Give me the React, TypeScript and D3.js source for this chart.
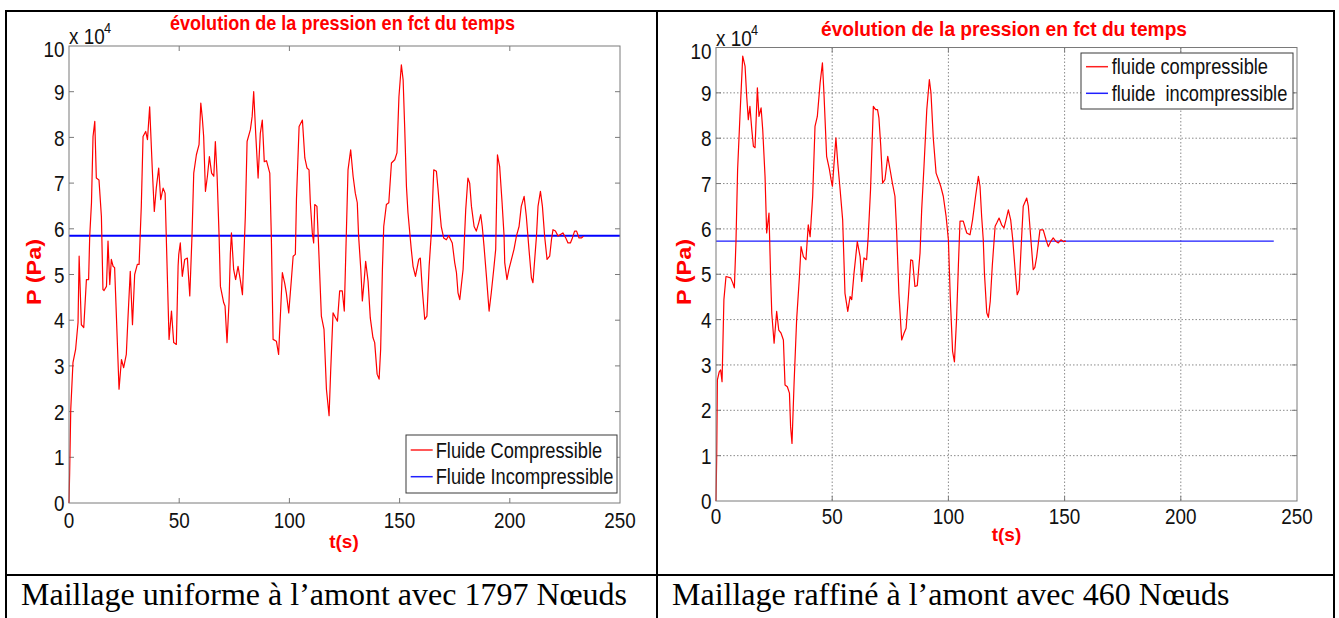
import * as d3 from "d3";

const SANS = "'Liberation Sans', Arial, sans-serif";
const SERIF = "'Liberation Serif', 'Times New Roman', serif";

type Pt = [number, number];

const xTicks = [0, 50, 100, 150, 200, 250];
const yTicks = [0, 10000, 20000, 30000, 40000, 50000, 60000, 70000, 80000, 90000, 100000];
const yTickLabels = ["0", "1", "2", "3", "4", "5", "6", "7", "8", "9", "10"];

const titleText = "évolution de la pression en fct du temps";
const xTitle = "t(s)";
const yTitle = "P (Pa)";
const captions = ["Maillage uniforme à l’amont avec 1797 Nœuds", "Maillage raffiné à l’amont avec 460 Nœuds"];
const legendUniform = ["Fluide Compressible", "Fluide Incompressible"];
const legendRefined = ["fluide compressible", "fluide  incompressible"];

// t (s), P (Pa) — maillage uniforme, 1797 noeuds
const compressibleUniform: Pt[] = [
  [0, 0], [0.3, 6700], [0.8, 20500], [1.8, 30700], [3.0, 33600], [4.1, 39500], [4.6, 54000],
  [5.6, 39000], [6.7, 38400], [7.9, 48900], [8.9, 48900], [9.4, 58400], [10.2, 65700],
  [10.9, 80200], [11.7, 83500], [12.4, 71100], [13.6, 70700], [14.7, 62700], [15.4, 46700],
  [15.9, 46500], [17.0, 47400], [17.7, 57300], [18.5, 47800], [19.2, 53300], [20.0, 51800],
  [20.7, 51500], [21.5, 40900], [22.7, 24900], [23.8, 31400], [24.8, 29600], [26.0, 32500],
  [26.8, 40900], [27.8, 50700], [28.8, 39000], [29.8, 50000], [31.0, 52200], [31.8, 52200],
  [32.8, 64900], [33.6, 80200], [34.8, 81300], [35.6, 79500], [36.6, 86700], [37.8, 72900],
  [38.7, 63800], [39.6, 68900], [40.7, 73300], [41.6, 66400], [42.7, 68900], [43.6, 67800],
  [45.4, 35800], [46.5, 42000], [47.5, 35100], [48.7, 34700], [49.5, 51800], [49.8, 54400],
  [50.5, 56900], [51.4, 49600], [52.5, 53300], [53.7, 53600], [54.8, 45300], [55.8, 58400],
  [56.6, 72200], [57.8, 76200], [59.0, 78400], [59.8, 87500], [60.5, 84200], [61.1, 80200],
  [61.9, 68200], [62.8, 71500], [63.7, 75800], [64.7, 72200], [65.7, 71500], [66.4, 79100],
  [67.2, 71500], [68.1, 58400], [68.7, 47400], [70.2, 43800], [70.8, 43100], [71.7, 35100],
  [72.6, 43800], [73.2, 54400], [73.7, 59100], [74.7, 51100], [75.6, 48900], [76.7, 51800],
  [77.7, 48900], [78.7, 45600], [80.0, 62700], [80.8, 79100], [82.3, 81700], [83.1, 84600],
  [83.8, 90000], [84.7, 80900], [85.8, 71100], [86.8, 80900], [87.7, 83800], [88.6, 74700],
  [89.6, 74900], [91.1, 72200], [91.8, 58400], [92.6, 35800], [94.1, 35400], [95.1, 32500],
  [96.8, 50400], [97.9, 48000], [98.6, 46000], [99.7, 41600], [100.9, 48900], [101.7, 54000],
  [102.7, 54400], [103.2, 66400], [104.4, 82400], [105.9, 83800], [107.0, 75500], [108.0, 73300],
  [108.9, 72900], [109.5, 65700], [110.4, 59100], [111.0, 56900], [111.5, 65300], [112.5, 64900],
  [113.1, 58000], [114.5, 40900], [115.7, 38000], [116.8, 24900], [118.0, 19100], [118.7, 28500],
  [119.8, 41600], [121.0, 40500], [121.8, 39800], [122.8, 46400], [124.0, 46400], [124.9, 42000],
  [126.6, 72900], [127.8, 77300], [128.9, 71500], [129.9, 67800], [130.8, 65700], [131.4, 58400],
  [132.4, 51100], [133.1, 44200], [133.9, 48500], [134.6, 52900], [135.7, 48500], [136.7, 40500],
  [137.9, 36200], [138.7, 35100], [139.8, 28200], [140.7, 27100], [141.4, 33600], [142.2, 51100],
  [142.8, 60500], [144.0, 65300], [145.1, 65700], [146.3, 74400], [147.8, 75100], [148.8, 76600],
  [149.7, 88900], [150.8, 95900], [151.6, 92600], [152.3, 82400], [153.1, 69300], [153.8, 63500],
  [155.3, 55500], [156.1, 51800], [157.2, 49600], [158.7, 53300], [159.4, 53600], [160.3, 46700],
  [161.4, 40200], [162.4, 40900], [163.4, 51800], [164.4, 59100], [165.5, 72900], [166.7, 72600],
  [167.4, 68900], [168.2, 64200], [168.9, 60500], [170.0, 58000], [171.2, 57600], [172.3, 58500],
  [173.9, 56900], [175.0, 52600], [175.8, 50400], [176.5, 46000], [177.3, 44500], [178.8, 51100],
  [180.0, 64200], [181.0, 71100], [181.8, 70000], [182.6, 64900], [183.8, 60500], [184.8, 59500],
  [185.9, 61300], [186.8, 63100], [187.5, 60500], [188.3, 56200], [189.4, 49600], [190.6, 42000],
  [191.6, 46000], [192.7, 51100], [193.6, 55500], [194.4, 76200], [195.4, 73600], [196.5, 65700],
  [197.4, 58400], [197.7, 52600], [198.7, 48900], [199.6, 51100], [201.9, 55500], [203.0, 58400],
  [204.2, 60500], [205.2, 64900], [206.5, 67100], [207.5, 62700], [208.7, 55500], [209.8, 49300],
  [210.5, 48200], [212.1, 58400], [212.8, 64900], [213.9, 68200], [214.8, 64900], [215.8, 58400],
  [216.9, 53300], [218.1, 54000], [218.9, 57600], [219.6, 59800], [220.7, 59500], [221.9, 58400],
  [224.1, 59100], [225.4, 58000], [226.4, 56900], [227.5, 56900], [228.4, 58000], [229.4, 59500],
  [230.3, 59500], [231.4, 58000], [232.5, 58000], [233.5, 58400],
];
const incompressibleUniform: Pt[] = [[0, 58500], [250, 58500]];

// t (s), P (Pa) — maillage raffiné, 460 noeuds
const compressibleRefined: Pt[] = [
  [0, 0], [0.3, 9800], [0.6, 26700], [1.4, 28500], [2.0, 28900], [2.6, 26300], [3.4, 44400],
  [4.3, 49500], [6.3, 49200], [7.2, 48100], [7.9, 47000], [8.6, 57200], [9.3, 73100],
  [10.3, 84800], [11.5, 98100], [12.5, 95900], [13.2, 89300], [13.9, 84100], [14.6, 87000],
  [15.4, 81900], [16.1, 78200], [16.8, 77900], [17.8, 91100], [18.5, 84800], [19.4, 86700],
  [20.1, 81900], [21.1, 71600], [21.8, 59100], [22.8, 63500], [23.5, 49500], [24.0, 41400],
  [25.0, 34800], [26.1, 41800], [27.0, 37700], [28.0, 37000], [29.0, 35500], [29.7, 25600],
  [30.7, 25200], [31.6, 23800], [32.1, 16400], [32.7, 12700], [33.6, 26000], [34.7, 40000],
  [35.9, 49500], [36.6, 56100], [37.6, 53900], [38.7, 53200], [39.7, 60900], [40.5, 58300],
  [41.6, 67200], [42.6, 82600], [43.6, 84800], [44.8, 92200], [45.8, 96600], [46.5, 89300],
  [47.6, 76000], [48.8, 73100], [49.5, 70900], [50.1, 69400], [50.8, 74500], [51.6, 80100],
  [52.4, 74500], [53.4, 68700], [54.5, 62000], [55.5, 45800], [56.7, 41800], [57.7, 45100],
  [58.4, 44400], [59.4, 50300], [60.8, 57200], [62.0, 53900], [62.7, 48400], [63.7, 53600],
  [64.8, 53200], [65.5, 58300], [66.5, 68700], [67.7, 87000], [68.7, 86300], [69.5, 86300],
  [70.1, 84500], [70.9, 78200], [71.7, 70100], [72.7, 70900], [73.9, 76000], [74.9, 73100],
  [75.9, 70100], [77.0, 67200], [77.7, 59800], [78.7, 45800], [79.9, 35500], [80.9, 37000],
  [81.8, 38100], [82.8, 45100], [83.8, 53200], [84.6, 53000], [85.6, 47300], [86.6, 47500],
  [87.8, 54700], [88.5, 64200], [89.5, 73800], [90.7, 86300], [91.8, 92900], [92.5, 90000],
  [93.5, 80000], [94.7, 72300], [95.7, 70900], [96.7, 69400], [97.8, 67200], [99.0, 62800],
  [100.0, 57600], [100.8, 45000], [101.8, 33000], [102.6, 30700], [103.5, 40000], [104.3, 52000],
  [105.0, 61700], [106.4, 61700], [107.9, 59100], [109.3, 58700], [110.4, 62000], [111.7, 67200],
  [112.9, 71600], [113.6, 69400], [114.3, 62800], [115.0, 57600], [115.5, 50300], [116.5, 41500],
  [117.2, 40500], [118.0, 44000], [118.9, 52000], [120.1, 60600], [120.8, 61300], [121.8, 62400],
  [122.9, 60900], [123.9, 60200], [124.8, 62000], [125.8, 64200], [126.8, 62000], [127.7, 57600],
  [128.7, 51000], [129.6, 45500], [130.4, 46500], [131.2, 55000], [132.2, 65000], [133.7, 66800],
  [134.4, 65000], [135.5, 57600], [136.5, 51000], [137.2, 51500], [138.0, 53900], [139.4, 59800],
  [140.8, 59800], [142.0, 57600], [143.0, 56100], [144.0, 57200], [145.1, 58000], [146.3, 57200],
  [147.3, 56900], [148.4, 57600], [149.5, 57200], [150.6, 57300],
];
const incompressibleRefined: Pt[] = [[0, 57300], [240, 57300]];

type LabelProps = {
  x: number; y: number; sx?: number; anchor?: string; size: number; bold?: boolean;
  fill?: string; family?: string; rotate?: number; len?: number; children: any;
};

function Label({ x, y, sx = 1, anchor = "middle", size, bold, fill = "#000", family = SANS, rotate = 0, len, children }: LabelProps) {
  return (
    <g transform={`translate(${x},${y}) rotate(${rotate}) scale(${sx},1)`}>
      <text
        textAnchor={anchor as any}
        dominantBaseline="central"
        fontSize={size}
        fontWeight={bold ? "bold" : "normal"}
        fill={fill}
        fontFamily={family}
        textLength={len}
        lengthAdjust={len ? "spacingAndGlyphs" : undefined}
        style={{ whiteSpace: "pre" }}
      >
        {children}
      </text>
    </g>
  );
}

type PanelProps = {
  x0: number; x1: number; yTop: number; yBottom: number;
  compressible: Pt[]; incompressible: Pt[];
  legend: string[];
  lgd: { x: number; y: number; w: number; h: number; rows: number[]; s0: number; s1: number; tx: number };
  grid: boolean;
  title: { x: number; y: number; len: number };
  xLabelY: number;
  xTitlePos: Pt;
  yTitlePos: Pt;
  exp: { x: number; y: number };
  blue: { w: number; c: string };
};

function Panel(p: PanelProps) {
  const x = d3.scaleLinear().domain([0, 250]).range([p.x0, p.x1]);
  const y = d3.scaleLinear().domain([0, 100000]).range([p.yBottom, p.yTop]);
  const line = d3.line<Pt>().x((d) => x(d[0])).y((d) => y(d[1]));
  const tk = 5;
  const axisColor = "#7a7a7a";
  return (
    <g>
      {p.grid && (
        <g stroke="#8a8a8a" strokeDasharray="1.5 2" strokeWidth={1}>
          {xTicks.slice(1, -1).map((t) => (
            <line key={"gx" + t} x1={x(t)} x2={x(t)} y1={p.yTop} y2={p.yBottom} />
          ))}
          {yTicks.slice(1, -1).map((t) => (
            <line key={"gy" + t} x1={p.x0} x2={p.x1} y1={y(t)} y2={y(t)} />
          ))}
        </g>
      )}
      <g stroke={axisColor} strokeWidth={1}>
        {xTicks.slice(1, -1).map((t) => (
          <g key={"tx" + t}>
            <line x1={x(t)} x2={x(t)} y1={p.yBottom} y2={p.yBottom - tk} />
            <line x1={x(t)} x2={x(t)} y1={p.yTop} y2={p.yTop + tk} />
          </g>
        ))}
        {yTicks.slice(1, -1).map((t) => (
          <g key={"ty" + t}>
            <line x1={p.x0} x2={p.x0 + tk} y1={y(t)} y2={y(t)} />
            <line x1={p.x1} x2={p.x1 - tk} y1={y(t)} y2={y(t)} />
          </g>
        ))}
      </g>
      <path d={line(p.incompressible) || ""} fill="none" stroke={p.blue.c} strokeWidth={p.blue.w} />
      <path d={line(p.compressible) || ""} fill="none" stroke="#ff0000" strokeWidth={1.2} strokeLinejoin="round" />
      <rect x={p.x0} y={p.yTop} width={p.x1 - p.x0} height={p.yBottom - p.yTop} fill="none" stroke={axisColor} strokeWidth={1} />

      {xTicks.map((t) => (
        <Label key={"xl" + t} x={x(t)} y={p.xLabelY} size={22.5} sx={0.84} fill="#111">{t}</Label>
      ))}
      {yTicks.map((t, i) => (
        <Label key={"yl" + t} x={p.x0 - 4.5} y={y(t) + (i === yTicks.length - 1 ? 3 : 0)} size={22.5} sx={0.84} anchor="end" fill="#111">
          {yTickLabels[i]}
        </Label>
      ))}
      <Label x={p.exp.x} y={p.exp.y} size={22.5} sx={0.84} anchor="start" fill="#111">x 10</Label>
      <Label x={p.exp.x + 35} y={p.exp.y - 8} size={15} sx={0.85} anchor="start" fill="#111">4</Label>

      <Label x={p.title.x} y={p.title.y} size={21} bold fill="#ff0000" len={p.title.len}>{titleText}</Label>
      <Label x={p.xTitlePos[0]} y={p.xTitlePos[1]} size={19} bold fill="#ff0000">{xTitle}</Label>
      <Label x={p.yTitlePos[0]} y={p.yTitlePos[1]} size={21} bold fill="#ff0000" rotate={-90} len={66}>{yTitle}</Label>

      <rect x={p.lgd.x} y={p.lgd.y} width={p.lgd.w} height={p.lgd.h} fill="#fff" stroke="#3a3a3a" strokeWidth={1} />
      {p.legend.map((s, i) => (
        <g key={s}>
          <line
            x1={p.lgd.x + p.lgd.s0} x2={p.lgd.x + p.lgd.s1}
            y1={p.lgd.y + p.lgd.rows[i]} y2={p.lgd.y + p.lgd.rows[i]}
            stroke={i === 0 ? "#ff2020" : "#2020ff"} strokeWidth={1.5}
          />
          <Label x={p.lgd.x + p.lgd.tx} y={p.lgd.y + p.lgd.rows[i]} size={21.5} sx={0.85} anchor="start" fill="#111">{s}</Label>
        </g>
      ))}
    </g>
  );
}

export default function App() {
  const W = 1339;
  const H = 618;
  return (
    <svg width={W} height={H} style={{ position: "absolute", left: 0, top: 0, background: "#fff" }}>
      <rect x={0} y={0} width={W} height={H} fill="#fff" />

      <Panel
        x0={69} x1={620} yTop={46} yBottom={503}
        compressible={compressibleUniform} incompressible={incompressibleUniform}
        legend={legendUniform}
        lgd={{ x: 406, y: 435, w: 211, h: 58, rows: [15, 41.7], s0: 4.7, s1: 26.7, tx: 29.7 }}
        grid={false}
        title={{ x: 342.5, y: 22.5, len: 345 }}
        xLabelY={519.5}
        xTitlePos={[344, 541.5]}
        yTitlePos={[33, 272]}
        exp={{ x: 69, y: 35.5 }}
        blue={{ w: 2, c: "#0000ff" }}
      />
      <Panel
        x0={716} x1={1297} yTop={47.5} yBottom={501}
        compressible={compressibleRefined} incompressible={incompressibleRefined}
        legend={legendRefined}
        lgd={{ x: 1081, y: 53, w: 212, h: 56, rows: [13.7, 40.3], s0: 5, s1: 27, tx: 30.7 }}
        grid={true}
        title={{ x: 1004, y: 28.5, len: 366 }}
        xLabelY={515.5}
        xTitlePos={[1006.5, 534]}
        yTitlePos={[683, 272]}
        exp={{ x: 716, y: 38 }}
        blue={{ w: 1.4, c: "#1a1aff" }}
      />

      <g stroke="#000" strokeWidth={2}>
        <line x1={6} x2={1334} y1={11} y2={11} />
        <line x1={6} x2={1334} y1={575} y2={575} />
        <line x1={6} x2={6} y1={10} y2={H} />
        <line x1={657} x2={657} y1={10} y2={H} />
        <line x1={1334} x2={1334} y1={10} y2={H} />
      </g>

      <text x={21} y={605} fontFamily={SERIF} fontSize={32} fill="#000">{captions[0]}</text>
      <text x={672} y={605} fontFamily={SERIF} fontSize={32} fill="#000">{captions[1]}</text>
    </svg>
  );
}
